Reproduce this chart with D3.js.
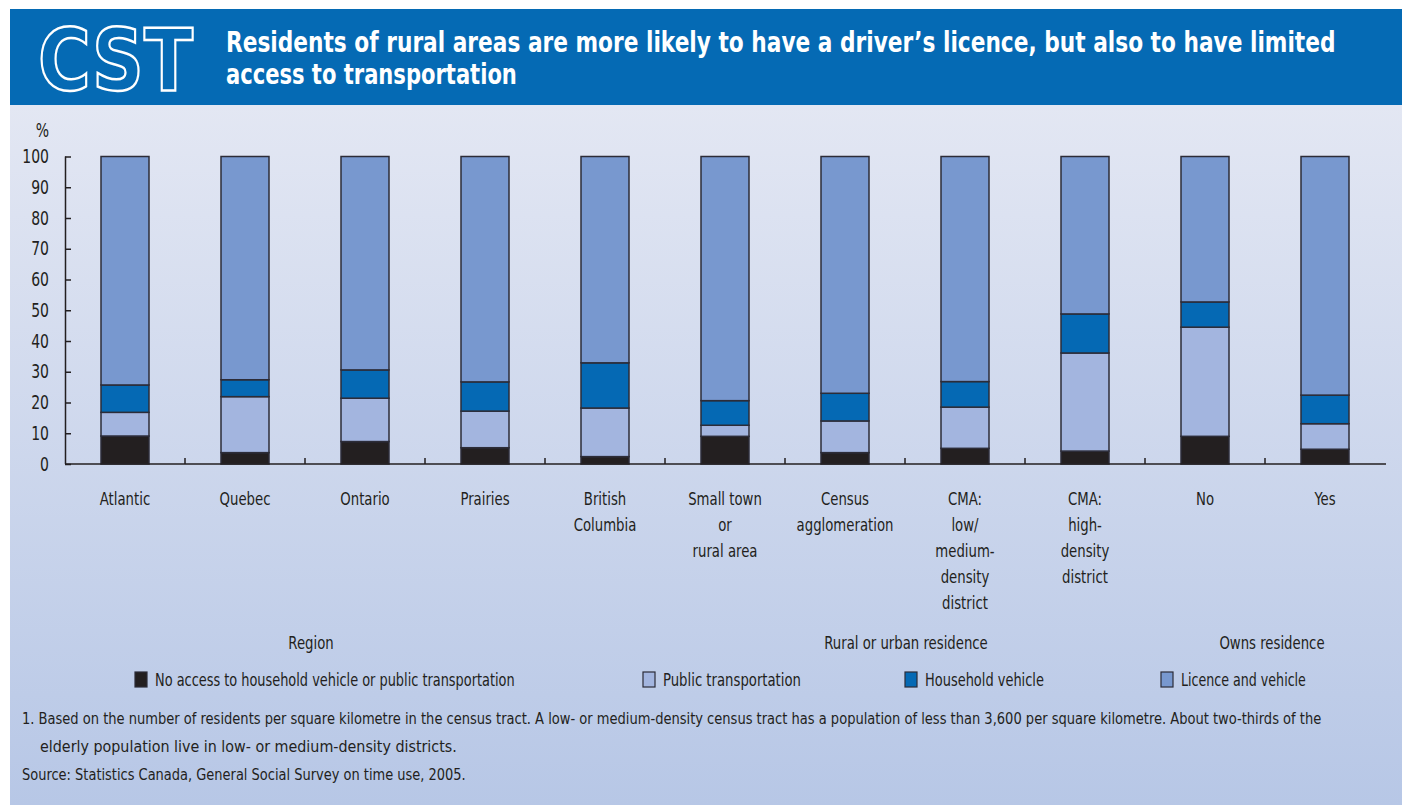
<!DOCTYPE html>
<html>
<head>
<meta charset="utf-8">
<script src="https://cdn.jsdelivr.net/npm/d3@7"></script>
<style>
  html, body { margin: 0; padding: 0; background: #ffffff; }
  svg { display: block; }
  text { font-family: "Liberation Sans Narrow", "DejaVu Sans Condensed", "Roboto", sans-serif; fill: #231f20; }
</style>
</head>
<body>
<svg id="chart" width="1406" height="805"></svg>
<script>
// Categories (line breaks mark wrapped labels)
const categories = [
  "Atlantic", "Quebec", "Ontario", "Prairies", "British\nColumbia",
  "Small town\nor\nrural area", "Census\nagglomeration",
  "CMA:\nlow/\nmedium-\ndensity\ndistrict", "CMA:\nhigh-\ndensity\ndistrict",
  "No", "Yes"
];
// Series values, percent of each group
const noAccess       = [9.1, 3.7, 7.3, 5.3, 2.4, 9.0, 3.7, 5.1, 4.2, 9.0, 4.8];
const publicTransit  = [7.7, 18.2, 14.1, 11.9, 15.8, 3.6, 10.3, 13.4, 31.9, 35.5, 8.3];
const householdVeh   = [8.9, 5.5, 9.2, 9.5, 14.7, 8.0, 9.0, 8.3, 12.7, 8.2, 9.3];
const licenceVeh     = [74.3, 72.6, 69.4, 73.3, 67.1, 79.4, 77.0, 73.2, 51.2, 47.3, 77.6];

const seriesNames = [
  "No access to household vehicle or public transportation",
  "Public transportation",
  "Household vehicle",
  "Licence and vehicle"
];
const seriesColors = ["#231f20", "#a3b5df", "#0569b4", "#7898cf"];

const yTicks = [0, 10, 20, 30, 40, 50, 60, 70, 80, 90, 100];

const groups = [
  { name: "Region", x: 311 },
  { name: "Rural or urban residence", x: 906 },
  { name: "Owns residence", x: 1272 }
];

const titleLines = [
  "Residents of rural areas are more likely to have a driver\u2019s licence, but also to have limited",
  "access to transportation"
];
const notes = [
  "1. Based on the number of residents per square kilometre in the census tract. A low- or medium-density census tract has a population of less than 3,600 per square kilometre. About two-thirds of the",
  "elderly population live in low-  or medium-density districts.",
  "Source: Statistics Canada, General Social Survey on time use, 2005."
];

const svg = d3.select("#chart");
const narrow = 0.82; // horizontal squeeze for the condensed label face

// Places a text anchored at (x, y) with a horizontal squeeze
function squeezed(parent, px, py) {
  return parent.append("g").attr("transform", `translate(${px},${py}) scale(${narrow},1)`)
    .append("text").attr("x", 0).attr("y", 0);
}

// Places a left-anchored text at (x, y) and squeezes it to a given width
function fitted(parent, px, py, width, str, size, weight, color) {
  const g = parent.append("g");
  const t = g.append("text").attr("x", 0).attr("y", 0)
    .style("font-size", size + "px").style("font-weight", weight || "normal")
    .text(str);
  if (color) t.style("fill", color);
  const natural = t.node().getComputedTextLength();
  g.attr("transform", `translate(${px},${py}) scale(${width / natural},1)`);
  return t;
}

// Panel background gradient
const defs = svg.append("defs");
const grad = defs.append("linearGradient").attr("id", "bg").attr("x1", 0).attr("x2", 0).attr("y1", 0).attr("y2", 1);
grad.append("stop").attr("offset", "0%").attr("stop-color", "#e3e7f3");
grad.append("stop").attr("offset", "100%").attr("stop-color", "#b7c7e6");
svg.append("rect").attr("x", 10).attr("y", 105).attr("width", 1392).attr("height", 700).attr("fill", "url(#bg)");

// Header band
svg.append("rect").attr("x", 10).attr("y", 9).attr("width", 1392).attr("height", 96).attr("fill", "#056ab4");
const logo = fitted(svg, 38, 90, 155, "CST", 86, "bold", null);
logo.style("font-family", "'DejaVu Sans', sans-serif")
  .style("fill", "none").style("stroke", "#ffffff").style("stroke-width", 2.5);
// re-fit after the family change
{
  const g = d3.select(logo.node().parentNode);
  const natural = logo.node().getComputedTextLength();
  g.attr("transform", `translate(38,90) scale(${155 / natural},1)`);
}
const titleWidths = [1110, 291];
titleLines.forEach((t, i) => {
  fitted(svg, 226, 52 + i * 32, titleWidths[i], t, 28, "bold", "#ffffff");
});

// Scales
const x = d3.scaleBand().domain(categories).range([65, 1385]).paddingInner(0.6).paddingOuter(0.3);
const y = d3.scaleLinear().domain([0, 100]).range([464, 156.5]);

// Stacked data
const rows = categories.map((c, i) => ({
  cat: c, s0: noAccess[i], s1: publicTransit[i], s2: householdVeh[i], s3: licenceVeh[i]
}));
const stack = d3.stack().keys(["s0", "s1", "s2", "s3"])(rows);

const barG = svg.append("g");
stack.forEach((layer, k) => {
  barG.selectAll(null).data(layer).enter().append("rect")
    .attr("x", d => x(d.data.cat))
    .attr("width", x.bandwidth())
    .attr("y", d => y(Math.min(d[1], 100)))
    .attr("height", d => y(d[0]) - y(Math.min(d[1], 100)))
    .attr("fill", seriesColors[k])
    .attr("stroke", "#2c2c38").attr("stroke-width", 1.5);
});

// Y axis
const yAxis = d3.axisRight(y).tickValues(yTicks).tickSize(6).tickFormat("");
const yG = svg.append("g").attr("transform", "translate(65,0)").call(yAxis);
yG.select(".domain").attr("d", `M0.5,${y(100)}V${y(0)}`);
yG.selectAll("line,path").attr("stroke", "#231f20").attr("stroke-width", 1.5);
const yLabG = svg.append("g");
yTicks.forEach(v => {
  squeezed(yLabG, 49, y(v) + 6.5).attr("text-anchor", "end").style("font-size", "19px").text(v);
});
squeezed(svg, 49, 137).attr("text-anchor", "end").style("font-size", "19px").text("%");

// X axis baseline with separator ticks between categories
const step = x.step();
const sepTicks = d3.range(1, categories.length).map(i => 65 + i * step);
svg.append("line").attr("x1", 65).attr("x2", 1386).attr("y1", y(0)).attr("y2", y(0))
  .attr("stroke", "#231f20").attr("stroke-width", 1.5);
svg.append("g").selectAll("line").data(sepTicks).enter().append("line")
  .attr("x1", d => d).attr("x2", d => d).attr("y1", y(0)).attr("y2", y(0) - 6)
  .attr("stroke", "#231f20").attr("stroke-width", 1.5);

// Category labels
const catG = svg.append("g");
categories.forEach(c => {
  const t = squeezed(catG, x(c) + x.bandwidth() / 2, 505)
    .attr("text-anchor", "middle").style("font-size", "18px");
  c.split("\n").forEach((line, j) => {
    t.append("tspan").attr("x", 0).attr("y", j * 26).text(line);
  });
});

// Group labels
groups.forEach(g => {
  squeezed(svg, g.x, 649).attr("text-anchor", "middle").style("font-size", "18px").text(g.name);
});

// Legend
const legendX = [135, 643, 905, 1161];
const legendW = [360, 138, 119, 125];
const legG = svg.append("g");
seriesNames.forEach((n, i) => {
  legG.append("rect").attr("x", legendX[i]).attr("y", 672).attr("width", 12).attr("height", 15)
    .attr("fill", seriesColors[i]).attr("stroke", "#2c2c38").attr("stroke-width", 1.2);
  fitted(legG, legendX[i] + 20, 686, legendW[i], n, 18);
});

// Notes and source
const noteX = [22, 40, 22];
const noteW = [1300, 417, 444];
notes.forEach((t, i) => {
  fitted(svg, noteX[i], 724 + i * 28, noteW[i], t, 16);
});
</script>
</body>
</html>
